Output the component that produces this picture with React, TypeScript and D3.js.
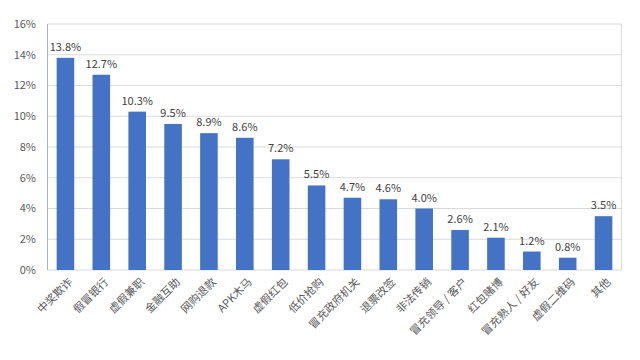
import React from "react";
import * as d3 from "d3";

const categories = ["中奖欺诈", "假冒银行", "虚假兼职", "金融互助", "网购退款", "APK木马", "虚假红包", "低价抢购", "冒充政府机关", "退票改签", "非法传销", "冒充领导 / 客户", "红包赌博", "冒充熟人 / 好友", "虚假二维码", "其他"];
const values = [13.8, 12.7, 10.3, 9.5, 8.9, 8.6, 7.2, 5.5, 4.7, 4.6, 4.0, 2.6, 2.1, 1.2, 0.8, 3.5];
const yTicks = [0, 2, 4, 6, 8, 10, 12, 14, 16];

export default function App() {
  const W = 640, H = 360;
  const left = 47.5, right = 621.5, top = 24, bottom = 270;
  const x = d3.scaleBand<string>().domain(categories).range([left, right]).paddingInner(0.51).paddingOuter(0.255);
  const y = d3.scaleLinear().domain([0, 16]).range([bottom, top]);
  const font = "'Noto Sans CJK SC', 'Noto Sans', sans-serif";
  return (
    <svg width={W} height={H} style={{ position: "absolute", left: 0, top: 0, background: "#fff" }} fontFamily={font}>
      <rect x={0} y={0} width={W} height={H} fill="#fff" />
      {yTicks.map((t) => (
        <g key={t}>
          <line x1={left} x2={right} y1={y(t)} y2={y(t)} stroke="#d9d9d9" strokeWidth={1} />
          <text x={36} y={y(t)} dy="0.35em" textAnchor="end" fontSize={11} fill="#595959">{t}%</text>
        </g>
      ))}
      <line x1={right} x2={right} y1={top} y2={bottom} stroke="#d9d9d9" />
      <line x1={left} x2={left} y1={top} y2={bottom} stroke="#a6b4c8" />
      {categories.map((c, i) => {
        const bx = x(c)!;
        const bw = x.bandwidth();
        const cx = bx + bw / 2;
        return (
          <g key={c}>
            <rect x={bx} y={y(values[i])} width={bw} height={bottom - y(values[i])} fill="#4472C4" />
            <text x={cx} y={y(values[i]) - 7} textAnchor="middle" fontSize={11} fill="#404040">{values[i].toFixed(1)}%</text>
            <text transform={`translate(${cx + 5},${bottom + 10}) rotate(-45)`} textAnchor="end" dy="0.35em" fontSize={11} fill="#595959">{c}</text>
          </g>
        );
      })}
    </svg>
  );
}
